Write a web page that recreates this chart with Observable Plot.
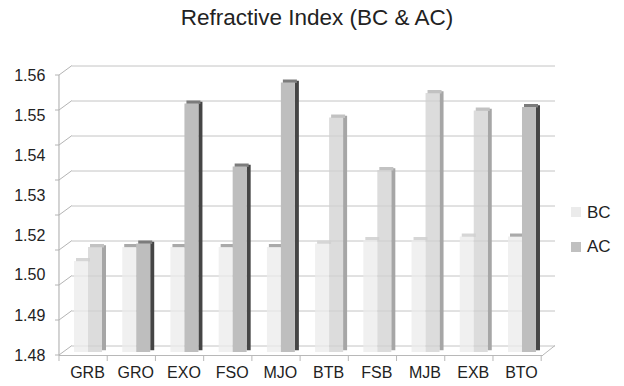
<!DOCTYPE html>
<html><head><meta charset="utf-8">
<script src="https://cdn.jsdelivr.net/npm/d3@7"></script>
<script src="https://cdn.jsdelivr.net/npm/@observablehq/plot@0.6"></script>
<style>
html,body{margin:0;padding:0;background:#fff;}
body{width:624px;height:386px;position:relative;overflow:hidden;font-family:"Liberation Sans",Arial,sans-serif;color:#222;}
#title{height:44px;box-sizing:border-box;padding-top:5px;padding-left:10px;text-align:center;font-size:22.5px;line-height:26px;color:#222;}
#chart svg{display:block;}
.sw{position:absolute;left:571px;width:10px;height:10px;}
.lt{position:absolute;left:587px;font-size:17px;line-height:20px;color:#222;}
</style></head><body>
<div id="title">Refractive Index (BC &amp; AC)</div>
<div id="chart"></div>
<div class="sw" style="top:207px;background:#ebebeb"></div><div class="lt" style="top:203px">BC</div>
<div class="sw" style="top:242px;background:#c0c0c0"></div><div class="lt" style="top:237px">AC</div>
<script>
const categories = ["GRB","GRO","EXO","FSO","MJO","BTB","FSB","MJB","EXB","BTO"];
const seriesNames = ["BC","AC"];
const bcValues = [1.506,1.510,1.510,1.510,1.510,1.511,1.512,1.512,1.513,1.513];
const acValues = [1.510,1.511,1.551,1.533,1.557,1.547,1.532,1.554,1.549,1.550];
const gridValues = [1.48,1.49,1.50,1.51,1.52,1.53,1.54,1.55,1.56];
const yTickLabels = ["1.48","1.49","1.50","1.52","1.53","1.54","1.55","1.56"];
const yTickLabelPositions = [1.48,1.4914,1.5029,1.5143,1.5257,1.5371,1.5486,1.56];

const rows = categories.flatMap((c, i) => [
  {cat: c, series: seriesNames[0], value: bcValues[i]},
  {cat: c, series: seriesNames[1], value: acValues[i]}
]);
const bc = rows.filter(d => d.series === "BC");
const ac = rows.filter(d => d.series === "AC");

// styles (derived from group type: *O groups are darker)
const isO = d => d.cat.endsWith("O");
const bcFront = "#ebebeb";
const bcTop = d => isO(d) ? "#aaaaaa" : "#d6d6d6";
const acFront = d => isO(d) ? "#bebebe" : "#d0d0d0";
const acOpacity = d => isO(d) ? 1 : 0.75;
const acTop = d => isO(d) ? "#7c7c7c" : "#c2c2c2";
const acSide = d => isO(d) ? "#454545" : "#a6a6a6";
const base = 1.48;

const plot = Plot.plot({
  width: 624, height: 342,
  marginLeft: 53.78, marginRight: 67.8, marginTop: 31, marginBottom: 31,
  style: {fontFamily: "'Liberation Sans', Arial, sans-serif", background: "#fff", color: "#222"},
  x: {type: "band", domain: categories, padding: 0.4193, round: false, axis: null},
  y: {domain: [1.48, 1.56], axis: null},
  marks: [
    Plot.ruleY(gridValues, {dx: 13, dy: -9.5, insetLeft: 5.2, insetRight: 14.2, stroke: "#c4c4c4", strokeWidth: 1}),
    Plot.ruleY([base], {insetLeft: 5.2, insetRight: 13.2, stroke: "#b8b8b8"}),
    // BC bars
    Plot.tickY(bc, {x: "cat", y: "value", insetLeft: 0, insetRight: 14, dx: 2, dy: -4.75, stroke: bcTop, strokeWidth: 3.5}),
    Plot.barY(bc, {x: "cat", y1: base, y2: "value", insetLeft: 0, insetRight: 14, dy: -3, fill: bcFront, fillOpacity: 0.75}),
    // AC bars
    Plot.barY(ac, {x: "cat", y1: base, y2: "value", insetLeft: 24, insetRight: 0, dx: 4, dy: -4.75, fill: acSide}),
    Plot.tickY(ac, {x: "cat", y: "value", insetLeft: 14, insetRight: 0, dx: 2, dy: -4.75, stroke: acTop, strokeWidth: 3.5}),
    Plot.barY(ac, {x: "cat", y1: base, y2: "value", insetLeft: 14, insetRight: 0, dy: -3, fill: acFront, fillOpacity: acOpacity}),
    // labels
    Plot.text(categories, {x: d => d, text: d => d, frameAnchor: "bottom", dy: 22, dx: -1, fontSize: 16, fill: "#222"}),
    Plot.text(yTickLabels, {y: (d, i) => yTickLabelPositions[i], text: d => d, frameAnchor: "left", textAnchor: "end", dx: -9, fontSize: 16, fill: "#222"})
  ]
});
document.getElementById("chart").appendChild(plot);

// 3D frame decorations positioned with the plot's own scales
const sx = plot.scale("x"), sy = plot.scale("y");
const X = sx.apply ? sx.apply : d3.scaleBand(sx.domain, sx.range).paddingInner(sx.paddingInner).paddingOuter(sx.paddingOuter).align(sx.align ?? 0.5);
const Y = sy.apply ? sy.apply : d3.scaleLinear(sy.domain, sy.range);
const step = sx.step ?? (X(categories[1]) - X(categories[0]));
const x0 = X(categories[0]) - 15;
const g = d3.select(plot).append("g").attr("stroke", "#a8a8a8").attr("stroke-width", 1).attr("fill", "none");
g.append("line").attr("x1", x0).attr("x2", x0).attr("y1", Y(1.56)).attr("y2", Y(base));
for (const v of gridValues) {
  g.append("path").attr("d", `M${x0 - 4},${Y(v)}H${x0}L${x0 + 13},${Y(v) - 9.5}`).attr("stroke", "#b4b4b4");
}
const xEnd = sx.range[1] - 13.2;
g.append("line").attr("x1", xEnd).attr("x2", xEnd + 12).attr("y1", Y(base)).attr("y2", Y(base) - 9.5).attr("stroke", "#b8b8b8");
for (let k = 0; k <= categories.length; k++) {
  const xx = x0 + k * step;
  g.append("line").attr("x1", xx).attr("x2", xx).attr("y1", Y(base)).attr("y2", Y(base) + 6).attr("stroke", "#b8b8b8");
}
</script>
</body></html>
